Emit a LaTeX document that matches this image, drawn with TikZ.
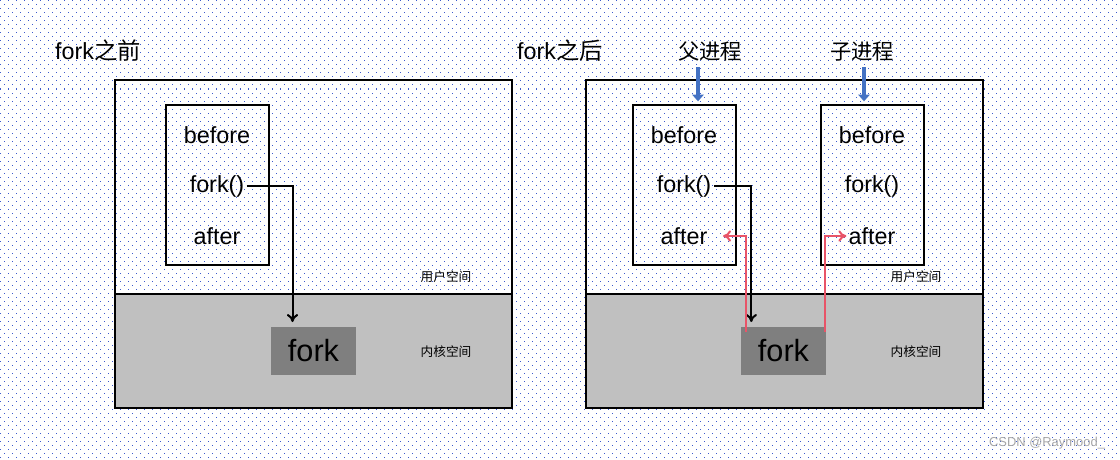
\documentclass[tikz,border=0pt]{standalone}
\usepackage{fontspec}
\setmainfont{Liberation Sans}
\newfontfamily\cjk{Noto Sans CJK SC}
\usetikzlibrary{arrows.meta}

\definecolor{kernelgray}{RGB}{192,192,192}
\definecolor{forkgray}{RGB}{127,127,127}
\definecolor{retred}{RGB}{232,84,104}
\definecolor{procblue}{RGB}{68,114,196}
\definecolor{dotblue}{RGB}{60,90,205}

\begin{document}
\begin{tikzpicture}[x=0.75pt,y=-0.75pt,line width=1.5pt]
\tikzstyle{dotrow}=[dotblue,line width=0.75pt,dash pattern=on 0.75pt off 5.25pt]
\tikzstyle{txt}=[inner sep=1pt,font=\fontsize{17.5pt}{20pt}\selectfont]
\tikzstyle{heading}=[font=\fontsize{17.5pt}{20pt}\selectfont]
\tikzstyle{region}=[font=\cjk\fontsize{9.5pt}{11pt}\selectfont]
\tikzstyle{procbox}=[draw,minimum width=77.25pt,minimum height=120pt,inner sep=0pt]
\tikzstyle{kfork}=[fill=forkgray,minimum width=64pt,minimum height=36pt,font=\fontsize{23pt}{26pt}\selectfont]
\tikzstyle{call}=[-{To[length=6pt,width=8.5pt]},line width=1.5pt]
\tikzstyle{ret}=[call,retred]
\tikzstyle{who}=[procblue,line width=3pt,-{Triangle[length=5pt,width=8.5pt]}]

% background dots
\useasboundingbox (0,0) rectangle (1120,460);
\foreach \yy in {1,9,...,457}
  \draw[dotrow] (0,\yy) -- (1120,\yy);
\foreach \yy in {5,13,...,457}
  \draw[dotrow,dash phase=3pt] (0,\yy) -- (1120,\yy);

% before fork
\node[heading] (before) at (98,51) {fork{\cjk 之前}};
\fill[kernelgray] (115,294) rectangle (512,408);
\draw (115,80) rectangle (512,408);
\draw (115,294) -- (512,294);
\node[region] (lu) at (446,277) {用户空间};
\node[region] (lk) at (446,352) {内核空间};

\node[procbox] (lbox) at (217,185) {};
\node[txt] (lb) at (217,135) {before};
\node[txt] (lf) at (217,186) {fork()};
\node[txt] (la) at (217,236) {after};
\node[kfork] (lfork) at (313.5,351) {fork};

\draw[call] (lf.east) -| ([xshift=17pt,yshift=3pt]lfork.north west);

% after fork
\node[heading] (after) at (560,51) {fork{\cjk 之后}};
\fill[kernelgray] (586,294) rectangle (983,408);
\draw (586,80) rectangle (983,408);
\draw (586,294) -- (983,294);
\node[region] (ru) at (916,277) {用户空间};
\node[region] (rk) at (916,352) {内核空间};

\node[procbox] (pbox) at (684.5,185) {};
\node[txt] (pb) at (684,135) {before};
\node[txt] (pf) at (684,186) {fork()};
\node[txt] (pa) at (684,236) {after};

\node[procbox] (cbox) at (872.5,185) {};
\node[txt] (cb) at (872,135) {before};
\node[txt] (cf) at (872,186) {fork()};
\node[txt] (ca) at (872,236) {after};

\node[kfork] (rfork) at (783.5,351) {fork};

\node[heading,font=\cjk\fontsize{16pt}{18pt}\selectfont] (plbl) at (710,52) {父进程};
\node[heading,font=\cjk\fontsize{16pt}{18pt}\selectfont] (clbl) at (862,52) {子进程};
\draw[who] ([xshift=-9pt]plbl.south) -- ([xshift=-9pt,yshift=2pt]plbl.south |- pbox.north);
\draw[who] ([xshift=1.5pt]clbl.south) -- ([xshift=1.5pt,yshift=2pt]clbl.south |- cbox.north);

\draw[call] (pf.east) -| ([xshift=8.6pt,yshift=3pt]rfork.north west);
\draw[ret] ([xshift=4.5pt,yshift=-4.5pt]rfork.north west) |- ([xshift=10pt]pa.east);
\draw[ret] ([xshift=-1.5pt,yshift=-4.5pt]rfork.north east) |- (ca.west);

\node[font=\fontsize{9.7pt}{11pt}\selectfont,text=gray!70] (mark) at (1047,443) {CSDN @Raymood\_};
\end{tikzpicture}
\end{document}
